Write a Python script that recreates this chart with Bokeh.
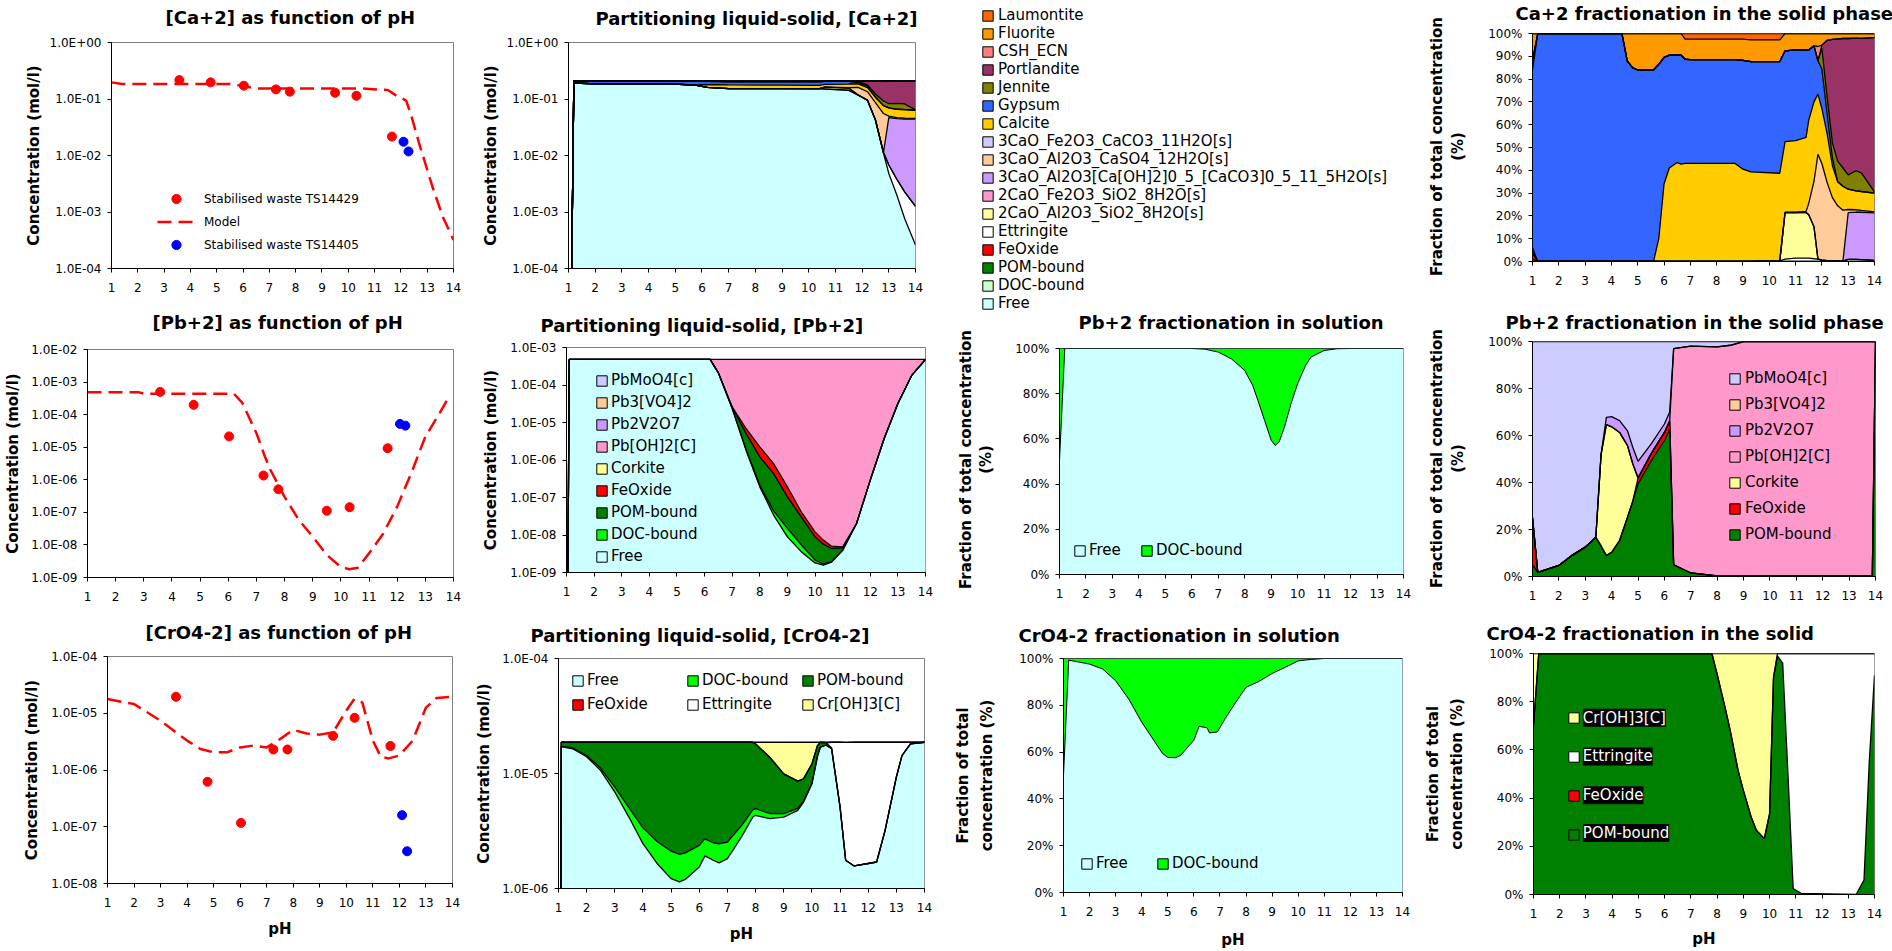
import numpy as np
from bokeh.plotting import figure
from bokeh.layouts import row, column
from bokeh.models import (Range1d, FixedTicker, CustomJSTickFormatter, Legend,
                          LegendItem, LinearAxis, Label)
from bokeh.embed import file_html
from bokeh.resources import INLINE

FONT = "DejaVu Sans"
PH_TICKS = list(range(1, 15))
NAN = float("nan")

# ---------------------------------------------------------------------------
# Leaching test results (pH dependence) and model curves
# ---------------------------------------------------------------------------
ph_ts14429 = [3.58, 4.77, 6.03, 7.25, 7.78, 9.50, 10.31, 11.66]
ph_ts14405 = [12.10, 12.29]

ca_ts14429 = [0.216, 0.197, 0.172, 0.148, 0.135, 0.129, 0.114, 0.0216]
ca_ts14405 = [0.0175, 0.0118]
ph_ca_model = [1.0, 1.4, 5.5, 6.0, 6.5, 10.5, 11.5, 11.8, 12.2, 12.4, 12.7, 13.2, 13.6, 14.0]
ca_model = [0.197, 0.184, 0.184, 0.170, 0.154, 0.154, 0.144, 0.117, 0.094, 0.050,
            0.016, 0.0028, 0.00081, 0.00032]

pb_ts14429 = [5.0e-4, 2.0e-4, 2.15e-5, 1.35e-6, 5.1e-7, 1.12e-7, 1.44e-7, 9.3e-6]
pb_ts14405 = [5.2e-5, 4.6e-5]
ph_pb_model = [1.0, 2.8, 3.0, 6.2, 6.5, 7.0, 7.3, 7.5, 8.0, 8.5, 9.0, 9.5, 10.0, 10.3,
               10.6, 11.0, 11.5, 12.0, 12.5, 13.0, 13.5, 13.85]
pb_model = [4.9e-4, 4.9e-4, 4.4e-4, 4.4e-4, 2.3e-4, 2.7e-5, 5.2e-6, 2.0e-6, 3.0e-7,
            5.9e-8, 1.8e-8, 4.9e-9, 2.1e-9, 1.8e-9, 2.0e-9, 5.5e-9, 2.2e-8, 1.5e-7,
            1.6e-6, 2.1e-5, 1.1e-4, 3.6e-4]

cro4_ts14429 = [1.95e-5, 6.2e-7, 1.17e-7, 2.3e-6, 2.3e-6, 4.0e-6, 8.3e-6, 2.65e-6]
cro4_ts14405 = [1.6e-7, 3.7e-8]
ph_cro4_model = [1.0, 2.0, 3.0, 3.5, 4.0, 4.5, 5.0, 5.5, 6.0, 6.5, 7.0, 7.5, 8.0, 8.5,
                 9.0, 9.5, 10.0, 10.3, 10.6, 11.0, 11.3, 11.6, 12.0, 12.5, 13.0, 13.4, 14.0]
cro4_model = [1.78e-5, 1.45e-5, 7.4e-6, 4.9e-6, 3.3e-6, 2.35e-6, 2.05e-6, 2.05e-6,
              2.5e-6, 2.7e-6, 2.5e-6, 3.5e-6, 5.1e-6, 4.4e-6, 4.2e-6, 4.6e-6, 1.12e-5,
              1.78e-5, 1.55e-5, 3.3e-6, 1.7e-6, 1.6e-6, 1.8e-6, 3.3e-6, 1.26e-5,
              1.86e-5, 1.95e-5]

# ---------------------------------------------------------------------------
# Ca partitioning liquid-solid (mol/l)
# ---------------------------------------------------------------------------
ph_ca_part = [1.0, 1.2, 2.0, 4.4, 5.0, 5.8, 6.2, 7.0, 9.0, 10.4, 10.6, 11.5, 11.85,
              12.2, 12.5, 12.8, 13.0, 13.3, 13.6, 14.0]
ca_free = [1e-9, 0.192, 0.185, 0.183, 0.183, 0.175, 0.160, 0.153, 0.153, 0.152, 0.150,
           0.142, 0.117, 0.095, 0.042, 0.011, 0.0048, 0.0020, 0.00075, 0.00026]
ca_ettringite = [0, 0, 0, 0, 0, 0, 0, 0, 0, 0.0002, 0.0006, 0.0010, 0.0009, 0.0005,
                 0.0005, 0.0003, 0.0020, 0.0018, 0.0015, 0.0010]
ca_c2as = [0, 0, 0, 0, 0, 0, 0, 0, 0, 0, 0.0123, 0.0129, 0, 0, 0, 0, 0, 0, 0, 0]
ca_c3a_cc = [0, 0, 0, 0, 0, 0, 0, 0, 0, 0, 0, 0, 0, 0, 0, 0, 0.040, 0.041, 0.042, 0.043]
ca_c3a_cs = [0, 0, 0, 0, 0, 0, 0, 0, 0, 0, 0, 0.0034, 0.043, 0.039, 0.044, 0.044,
             0.003, 0.002, 0.0015, 0.001]
ca_calcite = [0, 0, 0, 0, 0, 0.0035, 0.0205, 0.0245, 0.023, 0.022, 0.0187, 0.0248,
              0.0246, 0.0246, 0.020, 0.021, 0.020, 0.019, 0.019, 0.018]
ca_gypsum = [0, 0.018, 0.025, 0.027, 0.0227, 0.0268, 0.0248, 0.0259, 0.0272, 0.0284,
             0.0239, 0.0209, 0.0136, 0.0099, 0.003, 0, 0, 0, 0, 0]
ca_jennite = [0, 0, 0, 0, 0, 0, 0, 0, 0, 0, 0, 0, 0, 0.0085, 0.013, 0.016, 0.013,
              0.018, 0.017, 0.001]
ca_portlandite = [0, 0, 0, 0, 0, 0, 0, 0, 0, 0, 0, 0, 0, 0.029, 0.083, 0.113, 0.123,
                  0.121, 0.123, 0.142]
ca_csh = [0, 0, 0, 0, 0, 0, 0, 0, 0, 0, 0, 0, 0.006, 0, 0, 0, 0, 0, 0, 0]
ca_fluorite = [0, 0, 0, 0, 0.0043, 0.0047, 0.0048, 0.0051, 0.0053, 0.0055, 0.0046,
               0.0049, 0.0047, 0.0035, 0.0042, 0.0044, 0.0045, 0.0042, 0.0042, 0.0038]
ca_laumontite = [0, 0, 0, 0, 0, 0, 0, 0.0014, 0.0014, 0.0016, 0, 0, 0, 0, 0, 0, 0, 0, 0, 0]

# ---------------------------------------------------------------------------
# Ca fractionation in the solid phase (%)
# ---------------------------------------------------------------------------
ph_ca_solid = [1.0, 1.2, 4.4, 4.6, 4.8, 5.0, 5.6, 5.8, 6.0, 6.2, 6.5, 6.65, 6.8, 7.0,
               8.7, 9.0, 9.3, 10.4, 10.6, 11.0, 11.4, 11.5, 11.7, 11.85, 12.0, 12.2,
               12.4, 12.6, 12.8, 13.0, 13.3, 13.5, 14.0]
cs_pom = [1] + [0] * 32
cs_feoxide = [3] + [0] * 32
cs_ettringite = [0] * 17 + [0.3, 1.0, 1.5, 1.5, 1.5, 1.2, 1.0, 0.6, 0.4, 0.3, 0.3, 0.2,
                            0.9, 0.9, 0.8, 0.5]
cs_c2as = [0] * 18 + [20.5, 20.0, 20.0, 19.0, 14.0] + [0] * 10
cs_c3a_cc = [0] * 29 + [20.5, 20.8, 20.8, 20.8]
cs_c3a_cs = [0] * 20 + [0.5, 5.0, 20.0, 46.0, 42.4, 34.2, 27.7, 24.1, 22.3, 1.4, 1.0,
                        0.8, 0.5]
cs_calcite = [2, 0, 0, 0, 0, 0, 0, 10, 34, 41, 43.4, 42.7, 43, 43, 43, 40.5, 39.3, 38.4,
              31.1, 31.5, 32.4, 36.5, 34.8, 26.4, 24.0, 21.4, 14.0, 10.6, 10.5, 8.9,
              8.3, 8.3, 8.2]
cs_gypsum = [78, 100, 100, 88, 85, 84, 84, 76.5, 55.5, 49.5, 47.1, 47.8, 45.7, 45.5,
             45.5, 47.7, 48.4, 49.0, 39.8, 39.8, 38.4, 30.8, 24.6, 14.6, 17.4, 8.6, 3.6,
             0, 0, 0, 0, 0, 0]
cs_jennite = [4] + [0] * 23 + [9.0, 7.4, 6.4, 9.0, 8.0, 6.3, 8.8, 8.2, 0.5]
cs_portlandite = [0] * 24 + [1.5, 25.0, 45.4, 53.6, 56.8, 59.8, 58.2, 59.0, 67.7]
cs_csh = [0] * 23 + [6.3] + [0] * 9
cs_fluorite = [12, 0, 0, 12, 15, 16, 16, 13.5, 10.5, 9.5, 9.5, 9.5, 8.8, 9.0, 9.0, 9.3,
               9.5, 9.5, 7.6, 7.2, 7.2, 7.2, 5.4, 5.7, 5.1, 3.0, 2.6, 2.4, 2.2, 2.2,
               2.0, 2.1, 1.8]
cs_laumontite = [0] * 12 + [2.5, 2.5, 2.5, 2.5, 2.8, 2.8] + [0] * 15

# ---------------------------------------------------------------------------
# Pb partitioning liquid-solid (mol/l)
# ---------------------------------------------------------------------------
ph_pb_part = [1.0, 1.1, 6.2, 6.5, 7.0, 7.5, 8.0, 8.5, 9.0, 9.5, 10.0, 10.3, 10.6, 11.0,
              11.5, 12.0, 12.5, 13.0, 13.5, 14.0]
pb_free = [1e-15, 4.8e-4, 4.8e-4, 2.1e-4, 2.36e-5, 1.83e-6, 1.92e-7, 3.4e-8, 8.9e-9,
           3.6e-9, 1.8e-9, 1.57e-9, 1.9e-9, 3.9e-9, 2.0e-8, 2.9e-7, 3.7e-6, 3.2e-5,
           1.8e-4, 4.8e-4]
pb_doc = [0, 0, 0, 5e-7, 3.8e-7, 8.8e-8, 2.1e-8, 1.0e-8, 6.1e-9, 1.9e-9, 3.3e-10,
          1.3e-10, 6e-11, 3.5e-11, 0, 0, 0, 0, 0, 0]
pb_pom = [0, 0, 0, 0, 1.5e-6, 3.2e-6, 1.0e-6, 3.9e-7, 8.9e-8, 2.5e-8, 6.8e-9, 4.0e-9,
          2.4e-9, 6e-10, 0, 0, 0, 0, 0, 0]
pb_feoxide = [0, 0, 0, 0, 5e-7, 1.8e-6, 1.03e-6, 3.7e-7, 8.8e-8, 1.1e-8, 3.2e-9, 1.6e-9,
              6.6e-10, 2.8e-10, 0, 0, 0, 0, 0, 0]
pb_pboh2 = [0, 0, 0, 2.7e-4, 4.54e-4, 4.73e-4, 4.78e-4, 4.79e-4, 4.8e-4, 4.8e-4, 4.8e-4,
            4.8e-4, 4.8e-4, 4.8e-4, 4.8e-4, 4.797e-4, 4.763e-4, 4.48e-4, 3.0e-4, 0]

# Pb fractionation in solution (%)
ph_pb_sol = [1.0, 1.2, 6.0, 6.5, 7.0, 7.5, 8.0, 8.3, 8.5, 8.75, 9.0, 9.15, 9.3, 9.5,
             9.75, 10.0, 10.3, 10.5, 11.0, 11.5, 12.0, 14.0]
pb_sol_free = [50.5, 100, 100, 99.7, 98.4, 95.4, 90.3, 83.7, 77.0, 68.2, 59.4, 57.1,
               58.6, 65.2, 75.6, 84.4, 92.5, 96.2, 99.1, 99.9, 100, 100]
pb_sol_doc = [49.5, 0, 0, 0.3, 1.6, 4.6, 9.7, 16.3, 23.0, 31.8, 40.6, 42.9, 41.4, 34.8,
              24.4, 15.6, 7.5, 3.8, 0.9, 0.1, 0, 0]

# Pb fractionation in the solid phase (%)
ph_pb_solid = [1.0, 1.2, 2.0, 2.5, 3.0, 3.4, 3.6, 3.8, 4.0, 4.3, 4.6, 4.8, 5.0, 5.5,
               6.0, 6.2, 6.35, 7.0, 8.0, 8.5, 9.0, 13.88, 14.0]
ps_pom = [5, 1.8, 4.7, 9, 12.5, 16.7, 13, 8.9, 10.3, 15.3, 25.2, 32, 39.4, 49.3, 57.8,
          62.7, 5, 1.5, 0.3, 0.2, 0.2, 0.5, 100]
ps_feoxide = [20, 0, 0, 0, 0, 0, 0, 0, 0, 0, 0, 0, 2.5, 3, 3.5, 3.5, 0, 0, 0, 0, 0, 0, 0]
ps_corkite = [0, 0, 0, 0, 0, 0, 39, 55.7, 53.4, 46, 30.5, 16, 0, 0, 0, 0, 0, 0, 0, 0, 0,
              0, 0]
ps_pboh2 = [0] * 16 + [92, 96.5, 97.4, 98.2, 99.8, 99.5, 0]
ps_pb2v2o7 = [0, 0, 0, 0, 0, 0, 0, 3.1, 4.3, 5, 6.3, 7, 7.1, 4.1, 3.6, 3.8, 0, 0, 0, 0,
              0, 0, 0]
ps_pbmoo4 = [75, 98.2, 95.3, 91, 87.5, 83.3, 48, 32.3, 32, 33.7, 38, 45, 51, 43.6, 35.1,
             30, 3, 2, 2.3, 1.6, 0, 0, 0]

# ---------------------------------------------------------------------------
# CrO4 partitioning liquid-solid (mol/l)
# ---------------------------------------------------------------------------
ph_cr_part = [1.0, 1.1, 1.5, 2.0, 2.5, 3.0, 3.5, 4.0, 4.5, 5.0, 5.3, 5.5, 6.0, 6.2, 6.5,
              6.7, 7.0, 7.5, 7.9, 8.0, 8.5, 9.0, 9.5, 9.7, 10.0, 10.2, 10.3, 10.5, 10.7,
              11.0, 11.2, 11.5, 12.0, 12.3, 12.6, 13.0, 13.2, 13.5, 14.0]
cr_free = [1e-12, 1.71e-5, 1.64e-5, 1.40e-5, 1.06e-5, 6.9e-6, 4.18e-6, 2.45e-6, 1.65e-6,
           1.22e-6, 1.14e-6, 1.20e-6, 1.54e-6, 1.92e-6, 1.76e-6, 1.67e-6, 1.82e-6,
           2.81e-6, 4.18e-6, 4.33e-6, 4.05e-6, 4.18e-6, 4.78e-6, 5.6e-6, 8.1e-6,
           1.41e-5, 1.69e-5, 1.77e-5, 1.64e-5, 5.1e-6, 1.76e-6, 1.57e-6, 1.65e-6,
           1.70e-6, 3.2e-6, 9.3e-6, 1.43e-5, 1.81e-5, 1.87e-5]
cr_doc = [0, 1e-7, 3e-7, 3.5e-7, 5e-7, 7.2e-7, 8.7e-7, 9.2e-7, 9.1e-7, 8.9e-7, 8.4e-7,
          8.4e-7, 8.3e-7, 7.8e-7, 7.4e-7, 7.8e-7, 7.1e-7, 7.2e-7, 6.5e-7, 6.1e-7,
          4.4e-7, 2.9e-7, 1.9e-7, 1.5e-7, 8e-8, 5e-8, 3e-8] + [0] * 12
cr_pom = [0, 1.5e-6, 2.0e-6, 4.35e-6, 7.6e-6, 1.108e-5, 1.365e-5, 1.533e-5, 1.614e-5,
          1.659e-5, 1.672e-5, 1.666e-5, 1.633e-5, 1.60e-5, 1.62e-5, 1.625e-5, 1.617e-5,
          1.517e-5, 1.387e-5, 1.316e-5, 9.38e-6, 5.46e-6, 3.62e-6, 3.24e-6, 3.92e-6,
          3.35e-6, 1.77e-6, 9e-7, 3e-7, 1e-7] + [0] * 9
cr_ettringite = [0] * 28 + [2.0e-6, 1.35e-5, 1.69e-5, 1.713e-5, 1.705e-5, 1.70e-5,
                            1.55e-5, 9.4e-6, 4.4e-6, 6e-7, 0]
cr_croh3 = [0] * 19 + [6e-7, 4.83e-6, 8.77e-6, 1.011e-5, 9.71e-6, 6.6e-6, 1.2e-6] + [0] * 13

# CrO4 fractionation in solution (%)
ph_cr_sol = [1.0, 1.2, 2.0, 2.5, 3.0, 3.5, 4.0, 4.5, 4.8, 5.0, 5.3, 5.5, 6.0, 6.2, 6.5,
             6.6, 6.9, 7.2, 7.5, 8.0, 8.5, 9.0, 9.5, 10.0, 10.5, 11.0, 14.0]
cr_sol_free = [50, 99.3, 97.6, 95.5, 90.5, 82.7, 72.8, 64.4, 59.4, 57.7, 57.6, 58.7,
               65.1, 71.0, 70.4, 68.2, 68.6, 74.3, 79.5, 87.7, 90.2, 93.6, 96.2, 99.0,
               99.6, 100, 100]
cr_sol_doc = [50, 0.7, 2.4, 4.5, 9.5, 17.3, 27.2, 35.6, 40.6, 42.3, 42.4, 41.3, 34.9,
              29.0, 29.6, 31.8, 31.4, 25.7, 20.5, 12.3, 9.8, 6.4, 3.8, 1.0, 0.4, 0, 0]

# CrO4 fractionation in the solid (%)
ph_cr_solid = [1.0, 1.2, 7.8, 8.0, 8.3, 8.5, 8.8, 9.0, 9.3, 9.5, 9.8, 10.0, 10.15, 10.3,
               10.5, 10.7, 10.9, 11.2, 13.3, 13.6, 13.8, 14.0]
crs_pom = [70, 100, 100, 91.4, 77.7, 68.0, 51.4, 43.2, 32.1, 26.6, 23.2, 33.5, 90.0,
           99.0, 96.0, 50.0, 2.5, 0.5, 0, 6.0, 55.0, 91.0]
crs_ettringite = [0] * 13 + [1.0, 4.0, 50.0, 97.5, 99.5, 100, 94.0, 45.0, 9.0]
crs_croh3 = [30, 0, 0, 8.6, 22.3, 32.0, 48.6, 56.8, 67.9, 73.4, 76.8, 66.5, 10.0, 0, 0,
             0, 0, 0, 0, 0, 0, 0]

# ---------------------------------------------------------------------------
# Colours of the species
# ---------------------------------------------------------------------------
C_FREE = "#CCFFFF"
C_DOC_CA = "#CCFFCC"
C_DOC = "#00FF00"
C_POM = "#008000"
C_FEOX = "#FF0000"
C_ETTR = "#FFFFFF"
C_YEL = "#FFFF99"
C_PINK = "#FF99CC"
C_PURP = "#CC99FF"
C_PEACH = "#FFCC99"
C_LAV = "#CCCCFF"
C_CALC = "#FFCC00"
C_GYPS = "#3366FF"
C_JENN = "#808000"
C_PORT = "#993366"
C_CSH = "#FF8080"
C_FLUO = "#FF9900"
C_LAUM = "#FF6600"

FRACTION = "Fraction of total concentration"

# row heights of the 3 x 4 grid of charts
ROW1_H, ROW2_H, ROW3_H = 312, 300, 339


def decade_formatter():
    return CustomJSTickFormatter(code="""
        const e = Math.round(Math.log10(tick));
        const a = Math.abs(e);
        return "1.0E" + (e < 0 ? "-" : "+") + (a < 10 ? "0" : "") + a;
    """)


def percent_formatter():
    return CustomJSTickFormatter(code="return tick.toFixed(0) + '%';")


def no_align(p):
    try:
        p.frame_align = False
    except Exception:
        pass


def blank_figure(w, h):
    f = figure(width=w, height=h, x_range=Range1d(0, w), y_range=Range1d(0, h),
               x_axis_type=None, y_axis_type=None, output_backend="svg",
               toolbar_location=None, min_border=0, outline_line_color=None)
    no_align(f)
    f.background_fill_color = "white"
    f.border_fill_color = "white"
    return f


def title_strip(w, h, text, x_left, y_center):
    s = blank_figure(w, h)
    s.add_layout(Label(x=x_left, y=h - y_center, text=text, text_font=FONT,
                       text_font_size="18px", text_font_style="bold",
                       text_color="black", text_align="left", text_baseline="middle"))
    return s


def label_column(w, h, lines):
    """Vertical (two-line) y-axis title drawn in its own narrow strip."""
    f = blank_figure(w, h)
    for text, cx, cy in lines:
        f.add_layout(Label(x=cx, y=h - cy, text=text, angle=90, angle_units="deg",
                           text_font=FONT, text_font_size="15px",
                           text_font_style="bold", text_color="black",
                           text_align="center", text_baseline="middle"))
    return f


def style_axis(ax):
    ax.axis_line_color = "black"
    ax.axis_line_width = 1
    ax.major_tick_line_color = "black"
    ax.major_tick_in = 0
    ax.major_tick_out = 4
    ax.minor_tick_line_color = None
    ax.minor_tick_in = 0
    ax.minor_tick_out = 0
    ax.major_label_text_font = FONT
    ax.major_label_text_font_size = "12px"
    ax.major_label_text_color = "black"
    ax.axis_label_text_font = FONT
    ax.axis_label_text_font_size = "15px"
    ax.axis_label_text_font_style = "bold"
    ax.axis_label_text_color = "black"


def panel(w, h, borders, yr, log, title, t_left, t_center, yticks, ylabel=None,
          ylab_off=5, xlabel=None, xlab_off=10, side=None, side_w=50):
    """Returns (cell, plot): the chart with its title strip stacked above it."""
    L, R, T, B = borders
    if side:
        w = w - side_w
        L = L - side_w
    strip_h = int(round(t_center + 11))
    strip = title_strip(w, strip_h, title, L + t_left, t_center)
    p = figure(width=w, height=h - strip_h, x_range=Range1d(1, 14),
               y_range=Range1d(*yr), y_axis_type="log" if log else "linear",
               output_backend="svg", toolbar_location=None, min_border_left=L,
               min_border_right=R, min_border_top=T - strip_h, min_border_bottom=B)
    no_align(p)
    p.background_fill_color = "white"
    p.border_fill_color = "white"
    p.outline_line_color = "#808080"
    p.outline_line_width = 1
    p.grid.visible = False
    for ax in list(p.xaxis) + list(p.yaxis):
        style_axis(ax)
    p.xaxis.ticker = FixedTicker(ticks=PH_TICKS)
    p.xaxis.major_label_standoff = 10
    p.yaxis.ticker = FixedTicker(ticks=list(yticks))
    p.yaxis.major_label_standoff = 6
    p.yaxis.formatter = decade_formatter() if log else percent_formatter()
    if ylabel:
        p.yaxis.axis_label = ylabel
        p.yaxis.axis_label_standoff = ylab_off
    if xlabel:
        p.xaxis.axis_label = xlabel
        p.xaxis.axis_label_standoff = xlab_off
    cell = column(strip, p, spacing=0)
    if side:
        cell = row(label_column(side_w, h, side), cell, spacing=0)
    return cell, p


def outer_ylabel(p, text, standoff):
    ax = LinearAxis(ticker=FixedTicker(ticks=[]))
    style_axis(ax)
    ax.axis_line_color = None
    ax.major_tick_line_color = None
    ax.major_tick_out = 0
    ax.major_label_standoff = 0
    ax.axis_label = text
    ax.axis_label_standoff = standoff
    p.add_layout(ax, "left")


def draw_stack(p, x, layers, floor, lw=1.3):
    x = np.asarray(x, dtype=float)
    cum = np.zeros(len(x))
    tops = []
    for vals, color in layers:
        low = cum.copy()
        cum = cum + np.asarray(vals, dtype=float)
        if floor > 0:
            low = np.where(low > 0, low, floor)
        p.varea(x=x, y1=low, y2=cum.copy(), fill_color=color, fill_alpha=1.0)
        tops.append(cum.copy())
    for t in tops:
        p.line(x, t, line_color="black", line_width=lw)


def key_legend(p, entries, location, label_height, standoff, orientation="vertical",
               label_width=20, spacing=0, size="15px"):
    items = []
    for name, color in entries:
        # key swatch only; it has no position inside the plot area
        r = p.quad(left=[NAN], right=[NAN], top=[NAN], bottom=[NAN], fill_color=color,
                   line_color="black", line_width=1)
        items.append(LegendItem(label=name, renderers=[r]))
    leg = Legend(items=items, location=location, orientation=orientation,
                 glyph_width=13, glyph_height=13, label_height=label_height,
                 label_width=label_width, label_standoff=standoff, spacing=spacing,
                 padding=0, margin=0, background_fill_alpha=0, border_line_color=None,
                 label_text_font=FONT, label_text_font_size=size,
                 label_text_color="black")
    p.add_layout(leg)
    return leg


def decades(lo, hi):
    return [10.0 ** k for k in range(lo, hi + 1)]


def measured_panel(p, ph_model, model, v14429, v14405):
    line = p.line(ph_model, model, line_color="#FF0000", line_width=2.5, line_dash="14 7")
    red = p.scatter(ph_ts14429, v14429, marker="circle", size=9, fill_color="#FF0000",
                    line_color="#FF0000")
    blue = p.scatter(ph_ts14405, v14405, marker="circle", size=9, fill_color="#0000FF",
                     line_color="#0000FF")
    return line, red, blue


CONC = "Concentration (mol/l)"

# ---------------------------------------------------------------- row 1 ----
c1, p1 = panel(470, ROW1_H, (111, 17, 42, 44), (1e-4, 1), True, "[Ca+2] as function of pH",
               54, 17.3, decades(-4, 0), CONC, 4)
l1, r1, b1 = measured_panel(p1, ph_ca_model, ca_model, ca_ts14429, ca_ts14405)
leg1 = Legend(items=[LegendItem(label="Stabilised waste TS14429", renderers=[r1]),
                     LegendItem(label="Model", renderers=[l1]),
                     LegendItem(label="Stabilised waste TS14405", renderers=[b1])],
              location=(46, 12), glyph_width=38, glyph_height=23, label_height=23,
              label_standoff=9, spacing=0, padding=0, margin=0,
              background_fill_alpha=0, border_line_color=None, label_text_font=FONT,
              label_text_font_size="12px", label_text_color="black")
p1.add_layout(leg1)

c2, p2 = panel(480, ROW1_H, (98, 35, 42, 44), (1e-4, 1), True,
               "Partitioning liquid-solid, [Ca+2]", 27, 18.3, decades(-4, 0), CONC, 4)
draw_stack(p2, ph_ca_part, [
    (ca_free, C_FREE), (ca_ettringite, C_ETTR), (ca_c2as, C_YEL), (ca_c3a_cc, C_PURP),
    (ca_c3a_cs, C_PEACH), (ca_calcite, C_CALC), (ca_gypsum, C_GYPS),
    (ca_jennite, C_JENN), (ca_portlandite, C_PORT), (ca_csh, C_CSH),
    (ca_fluorite, C_FLUO), (ca_laumontite, C_LAUM)], 1e-20)

p3 = blank_figure(470, ROW1_H)
key_legend(p3, [
    ("Laumontite", C_LAUM), ("Fluorite", C_FLUO), ("CSH_ECN", C_CSH),
    ("Portlandite", C_PORT), ("Jennite", C_JENN), ("Gypsum", C_GYPS),
    ("Calcite", C_CALC), ("3CaO_Fe2O3_CaCO3_11H2O[s]", C_LAV),
    ("3CaO_Al2O3_CaSO4_12H2O[s]", C_PEACH),
    ("3CaO_Al2O3[Ca[OH]2]0_5_[CaCO3]0_5_11_5H2O[s]", C_PURP),
    ("2CaO_Fe2O3_SiO2_8H2O[s]", C_PINK), ("2CaO_Al2O3_SiO2_8H2O[s]", C_YEL),
    ("Ettringite", C_ETTR), ("FeOxide", C_FEOX), ("POM-bound", C_POM),
    ("DOC-bound", C_DOC_CA), ("Free", C_FREE)], (31, 0), 18, 4, spacing=-2)

c4, p4 = panel(472, ROW1_H, (112, 18, 33, 51), (0, 100), False,
               "Ca+2 fractionation in the solid phase", -17, 13.3, range(0, 101, 10),
               side=[(FRACTION, 16, 146), ("(%)", 37, 146)])
draw_stack(p4, ph_ca_solid, [
    (cs_pom, C_POM), (cs_feoxide, C_FEOX), (cs_ettringite, C_ETTR), (cs_c2as, C_YEL),
    (cs_c3a_cc, C_PURP), (cs_c3a_cs, C_PEACH), (cs_calcite, C_CALC),
    (cs_gypsum, C_GYPS), (cs_jennite, C_JENN), (cs_portlandite, C_PORT),
    (cs_csh, C_CSH), (cs_fluorite, C_FLUO), (cs_laumontite, C_LAUM)], 0)

# ---------------------------------------------------------------- row 2 ----
c5, p5 = panel(470, ROW2_H, (87, 17, 37, 35), (1e-9, 1e-2), True,
               "[Pb+2] as function of pH", 65, 10, decades(-9, -2), CONC, 6)
measured_panel(p5, ph_pb_model, pb_model, pb_ts14429, pb_ts14405)

c6, p6 = panel(480, ROW2_H, (96, 25, 35, 40), (1e-9, 1e-3), True,
               "Partitioning liquid-solid, [Pb+2]", -26, 13, decades(-9, -3), CONC, 7)
draw_stack(p6, ph_pb_part, [
    (pb_free, C_FREE), (pb_doc, C_DOC), (pb_pom, C_POM), (pb_feoxide, C_FEOX),
    (pb_pboh2, C_PINK)], 1e-20)
key_legend(p6, [
    ("PbMoO4[c]", C_LAV), ("Pb3[VO4]2", C_PEACH), ("Pb2V2O7", C_PURP),
    ("Pb[OH]2[C]", C_PINK), ("Corkite", C_YEL), ("FeOxide", C_FEOX),
    ("POM-bound", C_POM), ("DOC-bound", C_DOC), ("Free", C_FREE)], (29, 5), 22, 3)

c7, p7 = panel(470, ROW2_H, (109, 17, 36, 38), (0, 100), False,
               "Pb+2 fractionation in solution", 19, 9.7, range(0, 101, 20),
               side=[(FRACTION, 15, 147), ("(%)", 35, 147)])
draw_stack(p7, ph_pb_sol, [(pb_sol_free, C_FREE), (pb_sol_doc, C_DOC)], 0, lw=1.0)
key_legend(p7, [("Free", C_FREE), ("DOC-bound", C_DOC)], (14, 15), 18, 3,
           orientation="horizontal", label_width=51)

c8, p8 = panel(472, ROW2_H, (112, 17, 29, 36), (0, 100), False,
               "Pb+2 fractionation in the solid phase", -27, 9.7, range(0, 101, 20),
               side=[(FRACTION, 16, 146), ("(%)", 37, 146)])
draw_stack(p8, ph_pb_solid, [
    (ps_pom, C_POM), (ps_feoxide, C_FEOX), (ps_corkite, C_YEL), (ps_pboh2, C_PINK),
    (ps_pb2v2o7, C_PURP), (ps_pbmoo4, C_LAV)], 0)
key_legend(p8, [
    ("PbMoO4[c]", C_LAV), ("Pb3[VO4]2", C_PEACH), ("Pb2V2O7", C_PURP),
    ("Pb[OH]2[C]", C_PINK), ("Corkite", C_YEL), ("FeOxide", C_FEOX),
    ("POM-bound", C_POM)], (196, 29), 26, 4)

# ---------------------------------------------------------------- row 3 ----
c9, p9 = panel(470, ROW3_H, (107, 18, 44, 68), (1e-8, 1e-4), True,
               "[CrO4-2] as function of pH", 38, 19.7, decades(-8, -4), CONC, 7, "pH", 10)
measured_panel(p9, ph_cro4_model, cro4_model, cro4_ts14429, cro4_ts14405)

c10, p10 = panel(480, ROW3_H, (88, 26, 46, 63), (1e-6, 1e-4), True,
                 "Partitioning liquid-solid, [CrO4-2]", -28, 23, decades(-6, -4), CONC, 6,
                 "pH", 10)
draw_stack(p10, ph_cr_part, [
    (cr_free, C_FREE), (cr_doc, C_DOC), (cr_pom, C_POM), (cr_ettringite, C_ETTR),
    (cr_croh3, C_YEL)], 1e-20)
key_legend(p10, [("Free", C_FREE), ("DOC-bound", C_DOC), ("POM-bound", C_POM)],
           (13, 199), 18, 3, orientation="horizontal", label_width=99)
key_legend(p10, [("FeOxide", C_FEOX), ("Ettringite", C_ETTR), ("Cr[OH]3[C]", C_YEL)],
           (13, 175), 18, 3, orientation="horizontal", label_width=99)

c11, p11 = panel(470, ROW3_H, (108, 18, 46, 58), (0, 100), False,
                 "CrO4-2 fractionation in solution", -40, 23, range(0, 101, 20),
                 "concentration (%)", 20, "pH", 12)
outer_ylabel(p11, "Fraction of total", 4)
draw_stack(p11, ph_cr_sol, [(cr_sol_free, C_FREE), (cr_sol_doc, C_DOC)], 0, lw=1.0)
key_legend(p11, [("Free", C_FREE), ("DOC-bound", C_DOC)], (17, 20), 18, 3,
           orientation="horizontal", label_width=60)

c12, p12 = panel(472, ROW3_H, (108, 18, 41, 57), (0, 100), False,
                 "CrO4-2 fractionation in the solid", -42, 21, range(0, 101, 20),
                 "concentration (%)", 20, "pH", 9)
outer_ylabel(p12, "Fraction of total", 4)
draw_stack(p12, ph_cr_solid, [
    (crs_pom, C_POM), (crs_ettringite, C_ETTR), (crs_croh3, C_YEL)], 0)
key_legend(p12, [(" ", C_YEL), (" ", C_ETTR), (" ", C_FEOX), (" ", C_POM)],
           (34, 51), 18, 3, label_width=0, spacing=21)
for txt, yv in [("Cr[OH]3[C]", 73.3), ("Ettringite", 57.3), ("FeOxide", 41.2),
                ("POM-bound", 25.5)]:
    p12.add_layout(Label(x=2.88, y=yv, text=txt, text_font=FONT, text_font_size="15px",
                         text_color="white", text_baseline="middle",
                         background_fill_color="black"))

layout = column(row(c1, c2, p3, c4, spacing=0),
                row(c5, c6, c7, c8, spacing=0),
                row(c9, c10, c11, c12, spacing=0), spacing=0)
open("out.html", "w").write(file_html(layout, INLINE, title="Leaching and speciation"))
